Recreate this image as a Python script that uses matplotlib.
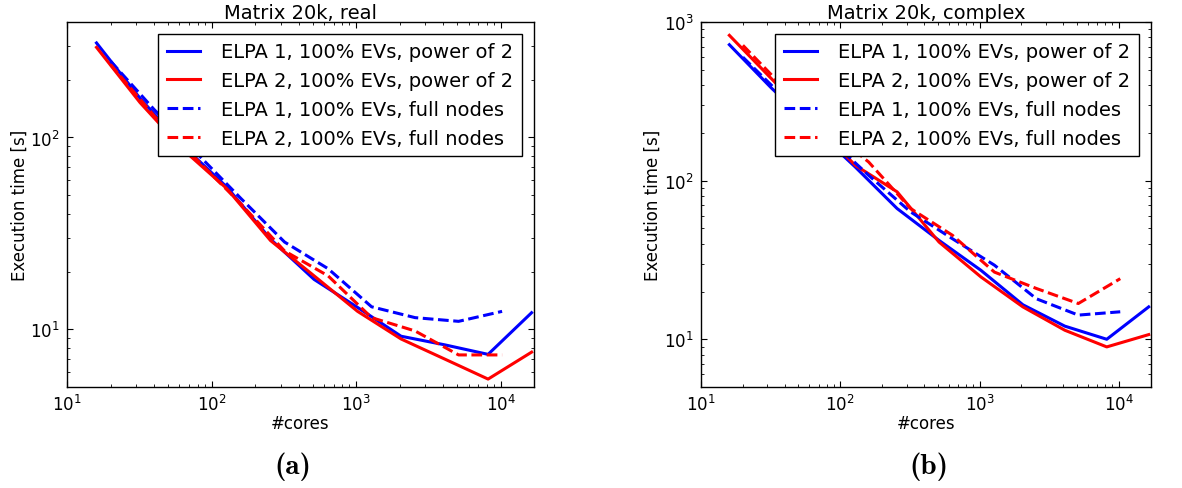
import os
import numpy as np
import matplotlib
matplotlib.use("Agg")
import matplotlib.pyplot as plt
from matplotlib.font_manager import FontProperties

# core counts
cores_pow2 = [16, 32, 64, 128, 256, 512, 1024, 2048, 4096, 8192, 16384]
cores_full = [20, 40, 80, 160, 320, 640, 1280, 2560, 5120, 10240]

# (a) real matrix, execution time [s]
real_elpa1_pow2 = [311, 160, 90, 55, 29.5, 18.2, 13.0, 9.2, 8.3, 7.4, 12.2]
real_elpa2_pow2 = [295, 152, 86, 54, 29.0, 19.0, 12.4, 8.9, 7.0, 5.5, 7.6]
real_elpa1_full = [250, 140, 82, 48, 28.5, 20.7, 13.1, 11.5, 11.0, 12.4]
real_elpa2_full = [240, 130, 76, 45, 25.6, 19.0, 11.5, 9.8, 7.35, 7.35]

# (b) complex matrix, execution time [s]
cplx_elpa1_pow2 = [719, 384, 216, 122, 66.7, 42, 27.2, 16.5, 12.1, 10.0, 16.0]
cplx_elpa2_pow2 = [824, 440, 235, 125, 85, 41, 24.7, 16.0, 11.4, 8.95, 10.7]
cplx_elpa1_full = [600, 330, 190, 108, 63.5, 43, 29.3, 18.0, 14.2, 14.9]
cplx_elpa2_full = [713, 380, 215, 131, 66.7, 45.2, 26.5, 20.9, 16.8, 24.1]

labels = ["ELPA 1, 100% EVs, power of 2",
          "ELPA 2, 100% EVs, power of 2",
          "ELPA 1, 100% EVs, full nodes",
          "ELPA 2, 100% EVs, full nodes"]

plt.rcParams.update({
    "font.family": "DejaVu Sans",
    "xtick.direction": "in",
    "ytick.direction": "in",
    "xtick.top": True,
    "ytick.right": True,
    "xtick.major.size": 4,
    "ytick.major.size": 4,
    "xtick.minor.size": 2,
    "ytick.minor.size": 2,
    "xtick.major.pad": 5,
    "ytick.major.pad": 5,
    "xtick.labelsize": 12,
    "ytick.labelsize": 12,
    "axes.linewidth": 1.0,
})

fig = plt.figure(figsize=(11.82, 4.89), dpi=100)
ax1 = fig.add_axes([0.0567, 0.2065, 0.395, 0.7465])
ax2 = fig.add_axes([0.593, 0.2065, 0.3807, 0.7465])


def draw(ax, title, e1p, e2p, e1f, e2f, ylim):
    lw = 2.2
    ax.loglog(cores_pow2, e1p, color="blue", lw=lw, label=labels[0])
    ax.loglog(cores_pow2, e2p, color="red", lw=lw, label=labels[1])
    ax.loglog(cores_full, e1f, color="blue", lw=lw, ls="--", dashes=(3.5, 1.5),
              label=labels[2])
    ax.loglog(cores_full, e2f, color="red", lw=lw, ls="--", dashes=(3.5, 1.5),
              label=labels[3])
    ax.set_xlim(10, 17000)
    ax.set_ylim(*ylim)
    ax.set_title(title, fontsize=14, pad=2)
    ax.set_xlabel("#cores", fontsize=12, labelpad=0)
    ax.set_ylabel("Execution time [s]", fontsize=12, labelpad=1.5)
    leg = ax.legend(loc="upper right", fontsize=14, fancybox=False,
                    framealpha=1, edgecolor="black", handlelength=1.7,
                    handletextpad=1.1, labelspacing=0.5, borderpad=0.45,
                    borderaxespad=0.6)
    leg.get_frame().set_linewidth(1.0)


draw(ax1, "Matrix 20k, real", real_elpa1_pow2, real_elpa2_pow2,
     real_elpa1_full, real_elpa2_full, (5, 400))
draw(ax2, "Matrix 20k, complex", cplx_elpa1_pow2, cplx_elpa2_pow2,
     cplx_elpa1_full, cplx_elpa2_full, (5, 1000))

# sub-captions in Computer Modern bold (ships with matplotlib)
cmb = os.path.join(matplotlib.get_data_path(), "fonts", "ttf", "cmb10.ttf")
cap_font = FontProperties(fname=cmb, size=21)
fig.text(293 / 1182, 1 - 467 / 489, "(a)", fontproperties=cap_font,
         ha="center", va="center")
fig.text(929 / 1182, 1 - 467 / 489, "(b)", fontproperties=cap_font,
         ha="center", va="center")

fig.savefig("out.png", dpi=100, facecolor="white")
